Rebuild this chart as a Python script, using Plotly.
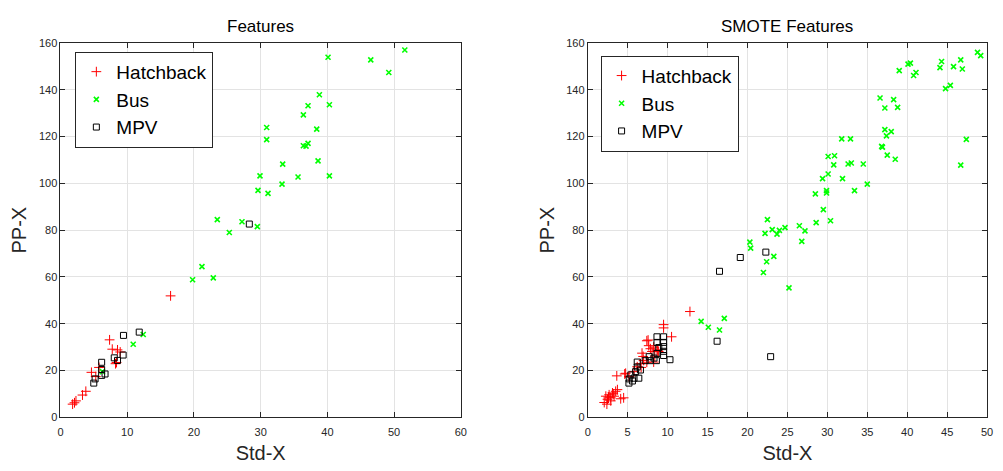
import plotly.graph_objects as go

# ---------------- data ----------------
# Left panel: "Features"
left_hatch_x = [16.5, 7.36, 7.76, 8.55, 8.95, 8.25, 8.4, 4.64, 5.78, 5.29, 3.8, 3.3, 2.32, 1.82, 2.1]
left_hatch_y = [51.9, 33.1, 29.1, 28.8, 27.9, 22.9, 23.4, 19.2, 21.3, 17.4, 11.1, 9.5, 7.0, 5.6, 6.2]

left_bus_x = [40.1, 46.5, 51.6, 49.2, 38.8, 37.1, 40.3, 36.4, 30.9, 38.4, 30.9, 36.4, 36.8, 37.1,
              33.3, 38.6, 29.9, 35.6, 40.3, 33.2, 29.6, 31.1, 23.5, 27.2, 29.5, 25.3, 21.2, 19.8,
              22.9, 12.4, 10.9, 6.28]
left_bus_y = [153.9, 152.8, 157.0, 147.4, 137.9, 133.2, 133.6, 129.3, 123.9, 123.2, 118.7, 116.1,
              115.9, 117.1, 108.2, 109.6, 103.2, 102.7, 103.2, 99.7, 97.0, 95.7, 84.5, 83.6, 81.5,
              79.0, 64.4, 58.8, 59.6, 35.4, 31.2, 19.5]

left_mpv_x = [28.3, 9.44, 11.8, 8.06, 8.55, 9.39, 6.17, 6.17, 6.68, 6.17, 5.19, 4.99]
left_mpv_y = [82.6, 35.0, 36.4, 25.4, 24.3, 26.6, 23.5, 20.4, 18.5, 17.9, 16.4, 14.6]

# Right panel: "SMOTE Features"
right_hatch_x = [12.8, 9.5, 9.5, 10.5, 7.56, 7.4, 7.64, 7.85, 8.26, 8.05, 8.67, 8.88, 8.76, 6.8,
                 7.0, 6.94, 8.26, 8.4, 7.4, 6.6, 6.2, 5.8, 6.69, 4.63, 3.64, 4.75, 5.16, 2.07,
                 2.48, 2.27, 2.89, 3.1, 3.5, 3.72, 2.68, 3.3, 2.89, 4.13, 4.5, 2.4, 3.2, 2.6]
right_hatch_y = [45.2, 39.6, 38.2, 34.4, 33.0, 32.7, 30.6, 29.3, 30.0, 28.1, 28.8, 28.1, 28.5, 27.4,
                 24.3, 26.0, 23.6, 26.1, 23.5, 22.9, 21.6, 19.5, 21.3, 18.5, 17.7, 18.8, 17.4, 6.3,
                 7.7, 9.0, 8.3, 10.4, 11.1, 11.8, 9.6, 9.0, 7.0, 7.9, 8.3, 5.6, 10.0, 8.6]

right_bus_x = [14.2, 15.1, 17.1, 16.5, 25.2, 22.0, 22.4, 23.3, 20.4, 20.3, 22.2, 22.5, 23.1, 23.7,
               24.0, 24.7, 26.5, 27.2, 26.8, 28.6, 30.4, 29.5, 28.5, 29.9, 29.9,
               48.8, 49.2, 46.7, 46.9, 45.8, 44.3, 44.1, 45.4, 44.8, 40.1, 40.4, 41.1, 40.8, 39.0,
               36.6, 38.3, 37.2, 38.8, 47.4, 46.7, 37.2, 38.0, 37.4, 36.8, 36.9, 37.5, 38.5, 31.8,
               32.9, 30.1, 30.9, 30.8, 32.6, 33.0, 34.5, 30.1, 29.4, 31.9, 35.0, 33.4]
right_bus_y = [41.0, 38.5, 42.3, 37.3, 55.3, 61.9, 66.5, 68.8, 72.3, 74.9, 78.6, 84.5, 80.2, 78.3,
               79.9, 81.1, 81.9, 79.7, 75.2, 83.2, 84.0, 88.8, 95.5, 95.9, 96.9,
               156.0, 154.6, 152.8, 148.9, 149.9, 152.1, 149.5, 141.9, 140.5, 151.0, 151.4, 147.4,
               146.1, 148.2, 136.5, 135.8, 132.2, 132.5, 118.8, 107.8, 123.0, 122.1, 120.3, 115.8,
               115.5, 112.1, 110.3, 119.0, 119.0, 111.5, 111.8, 107.9, 108.3, 108.7, 108.3, 104.0,
               102.0, 102.0, 99.7, 96.9]

right_mpv_x = [22.3, 19.1, 16.5, 16.2, 22.9, 8.67, 9.5, 9.5, 9.5, 9.5, 9.5, 8.67, 8.9, 8.67, 10.3,
               7.2, 7.8, 8.6, 6.2, 6.2, 6.6, 6.0, 5.4, 6.4, 5.2, 5.8, 5.16, 5.6, 8.3, 7.7]
right_mpv_y = [70.6, 68.3, 62.4, 32.5, 25.9, 34.4, 34.4, 32.0, 30.2, 28.2, 26.4, 32.0, 29.8, 27.3,
               24.6, 24.2, 24.2, 24.2, 23.6, 21.5, 20.2, 19.5, 18.1, 16.7, 16.4, 16.7, 14.6, 15.5,
               25.3, 25.9]

class_names = ["Hatchback", "Bus", "MPV"]
panel_titles = ["Features", "SMOTE Features"]
x_title = "Std-X"
y_title = "PP-X"
left_xticks = [0, 10, 20, 30, 40, 50, 60]
right_xticks = [0, 5, 10, 15, 20, 25, 30, 35, 40, 45, 50]
yticks = [0, 20, 40, 60, 80, 100, 120, 140, 160]

# ---------------- styling ----------------
FONT = "Liberation Sans, Arial, Helvetica, sans-serif"
AX = "#262626"
GRID = "#e3e3e3"
W, H = 1003, 471

styles = {
    "Hatchback": dict(symbol="cross-thin", size=7, color="#ff0000", line=dict(color="#ff0000", width=1)),
    "Bus": dict(symbol="x-thin", size=5, color="#00ff00", line=dict(color="#00ff00", width=1.6)),
    "MPV": dict(symbol="square-open", size=6, color="#000000", line=dict(color="#000000", width=1)),
}

fig = go.Figure()

panels = [
    ("x", "y", "legend", [(left_hatch_x, left_hatch_y), (left_bus_x, left_bus_y), (left_mpv_x, left_mpv_y)]),
    ("x2", "y2", "legend2", [(right_hatch_x, right_hatch_y), (right_bus_x, right_bus_y), (right_mpv_x, right_mpv_y)]),
]
for xa, ya, lg, series in panels:
    for name, (xs, ys) in zip(class_names, series):
        fig.add_trace(go.Scatter(
            x=xs, y=ys, mode="markers", name=name, xaxis=xa, yaxis=ya, legend=lg,
            marker=styles[name], showlegend=True,
        ))

# pixel geometry of the two plot areas
def px_x(p):
    return p / W

def px_y(p):
    return 1 - p / H

y_dom = [px_y(422), px_y(38)]
common_axis = dict(
    showline=True, linecolor=AX, linewidth=1, mirror="ticks",
    ticks="inside", ticklen=5, tickcolor=AX, tickwidth=1,
    showgrid=True, gridcolor=GRID, gridwidth=1, zeroline=False,
    tickfont=dict(family=FONT, size=11, color=AX),
    title_font=dict(family=FONT, size=20, color=AX),
)

fig.update_layout(
    width=W, height=H, autosize=False,
    margin=dict(l=0, r=0, t=0, b=0),
    paper_bgcolor="white", plot_bgcolor="white",
    font=dict(family=FONT, color=AX),
    xaxis=dict(domain=[px_x(58), px_x(462)], range=[0, 60], tickvals=left_xticks,
               anchor="y", ticklabelstandoff=5, title=dict(text=x_title, standoff=8), **common_axis),
    yaxis=dict(domain=y_dom, range=[0, 160], tickvals=yticks, anchor="x",
               title=dict(text=y_title, standoff=6), **common_axis),
    xaxis2=dict(domain=[px_x(590), px_x(993)], range=[0, 50], tickvals=right_xticks,
                anchor="y2", ticklabelstandoff=5, title=dict(text=x_title, standoff=8), **common_axis),
    yaxis2=dict(domain=y_dom, range=[0, 160], tickvals=yticks, anchor="x2",
                title=dict(text=y_title, standoff=6), **common_axis),
    legend=dict(x=px_x(73), y=px_y(47), xanchor="left", yanchor="top",
                bordercolor=AX, borderwidth=1, bgcolor="white",
                font=dict(family=FONT, size=19, color="black"),
                tracegroupgap=0, itemwidth=30),
    legend2=dict(x=px_x(603), y=px_y(51), xanchor="left", yanchor="top",
                 bordercolor=AX, borderwidth=1, bgcolor="white",
                 font=dict(family=FONT, size=19, color="black"),
                 tracegroupgap=0, itemwidth=30),
)

for title, cx in zip(panel_titles, [260, 791]):
    fig.add_annotation(text=title, x=px_x(cx), y=px_y(21), xref="paper", yref="paper",
                       showarrow=False, xanchor="center", yanchor="middle",
                       font=dict(family=FONT, size=17, color="black"))

fig.write_html("out.html")
